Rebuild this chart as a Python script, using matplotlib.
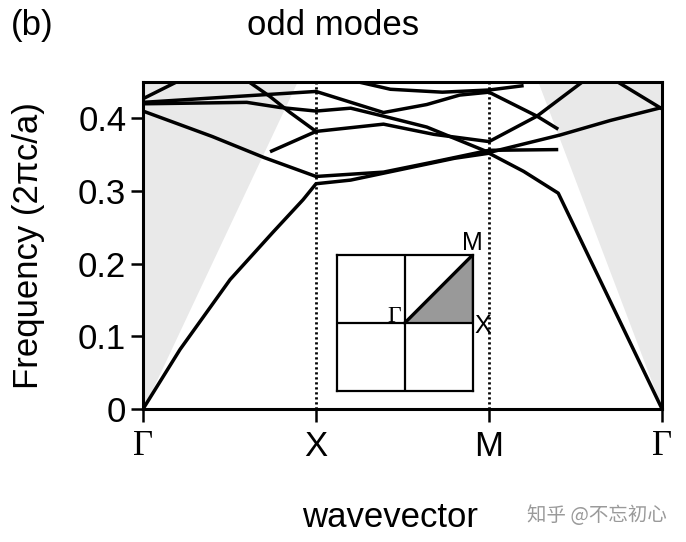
import matplotlib.pyplot as plt
from matplotlib.patches import Polygon

plt.rcParams['font.family'] = ['Liberation Sans', 'DejaVu Sans']

# k-path positions: Gamma, X, M, Gamma
k_ticks = [0, 1, 2, 3]
k_labels = ['\u0393', 'X', 'M', '\u0393']

# light line (edge of the grey light cone)
light_left_k = [0, 0.89]
light_left_f = [0, 0.45]
light_right_k = [2.283, 3]
light_right_f = [0.45, 0]

# bands: (k, frequency)
band1_k = [0, 0.214, 0.503, 0.75, 0.925, 1.0, 1.2, 1.5, 1.8, 2.0, 2.2, 2.4, 3.0]
band1_f = [0, 0.082, 0.178, 0.243, 0.288, 0.31, 0.315, 0.33, 0.345, 0.352, 0.327, 0.297, 0.0]

band2_k = [0, 0.4, 0.7, 1.0, 1.39, 1.68, 2.0, 2.4]
band2_f = [0.41, 0.375, 0.346, 0.32, 0.326, 0.34, 0.356, 0.357]

band3_k = [0.734, 1.0]
band3_f = [0.354, 0.382]

band4_k = [0.601, 0.734, 0.85, 1.0, 1.39, 1.68, 2.0, 2.277, 2.55]
band4_f = [0.452, 0.43, 0.408, 0.382, 0.392, 0.378, 0.368, 0.403, 0.452]

band5_k = [0, 0.6, 0.79, 1.0, 1.2, 1.39, 1.64, 2.0, 2.41, 2.7, 3.0]
band5_f = [0.42, 0.422, 0.415, 0.41, 0.414, 0.403, 0.388, 0.353, 0.377, 0.397, 0.415]

band6_k = [0, 1.0, 1.39, 1.64, 1.83, 2.0, 2.277, 2.4]
band6_f = [0.422, 0.437, 0.408, 0.419, 0.432, 0.436, 0.403, 0.385]

band7_k = [0, 0.21]
band7_f = [0.427, 0.452]

band8_k = [1.21, 1.43, 1.73, 2.0, 2.2]
band8_f = [0.452, 0.44, 0.436, 0.439, 0.445]

band9_k = [2.73, 3.0]
band9_f = [0.452, 0.413]

bands = [(band1_k, band1_f), (band2_k, band2_f), (band3_k, band3_f),
         (band4_k, band4_f), (band5_k, band5_f), (band6_k, band6_f),
         (band7_k, band7_f), (band8_k, band8_f), (band9_k, band9_f)]

fig = plt.figure(figsize=(6.86, 5.42), dpi=100)
ax = fig.add_axes([0.2085, 0.2454, 0.7566, 0.6033])

# light cone
ax.fill_between(light_left_k, light_left_f, 0.45, color='#e9e9e9', lw=0)
ax.fill_between(light_right_k, light_right_f, 0.45, color='#e9e9e9', lw=0)

for k, f in bands:
    ax.plot(k, f, color='black', lw=2.5, solid_capstyle='butt')

for k in k_ticks[1:3]:
    ax.axvline(k, color='black', lw=2.0, ls=(0, (0.8, 1.0)))

ax.set_xlim(0, 3)
ax.set_ylim(0, 0.45)
ax.set_yticks([0, 0.1, 0.2, 0.3, 0.4])
ax.set_yticklabels(['0', '0.1', '0.2', '0.3', '0.4'])
ax.set_xticks(k_ticks)
ax.set_xticklabels(k_labels)
for lab in ax.get_xticklabels():
    if lab.get_text() == '\u0393':
        lab.set_family(['Liberation Serif', 'DejaVu Serif'])
ax.tick_params(axis='both', labelsize=25, width=1.8, length=9, direction='out')
ax.tick_params(axis='x', pad=6)
ax.tick_params(axis='y', pad=3)
for sp in ax.spines.values():
    sp.set_linewidth(2.2)

ax.set_ylabel('Frequency (2\u03c0c/a)', fontsize=25, labelpad=24)
fig.text(0.568, 0.046, 'wavevector', fontsize=25, ha='center', va='center')
fig.text(0.485, 0.953, 'odd modes', fontsize=25, ha='center', va='center')
fig.text(0.016, 0.953, '(b)', fontsize=25, ha='left', va='center')
fig.text(0.768, 0.048, '知乎 @不忘初心', fontsize=14, ha='left', va='center',
         color='#9a9a9a', family=['Noto Sans CJK SC', 'DejaVu Sans'])

# Brillouin zone inset
bz = fig.add_axes([0.491, 0.2786, 0.198, 0.251])
bz.set_xlim(-1, 1)
bz.set_ylim(-1, 1)
bz.set_xticks([])
bz.set_yticks([])
for sp in bz.spines.values():
    sp.set_linewidth(1.6)
bz.axhline(0, color='black', lw=1.6)
bz.axvline(0, color='black', lw=1.6)
bz.add_patch(Polygon([(0, 0), (1, 1), (1, 0)], closed=True,
                     facecolor='#999999', edgecolor='black', lw=1.2))
bz.plot([0, 1], [0, 1], color='black', lw=2.4)
bz.text(-0.06, 0.1, '\u0393', fontsize=17, ha='right', va='center',
        family=['Liberation Serif', 'DejaVu Serif'])
bz.text(1.0, 1.0, 'M', fontsize=18, ha='center', va='bottom', clip_on=False)
bz.text(1.03, -0.04, 'X', fontsize=18, ha='left', va='center', clip_on=False)

fig.savefig('out.png', dpi=100)
